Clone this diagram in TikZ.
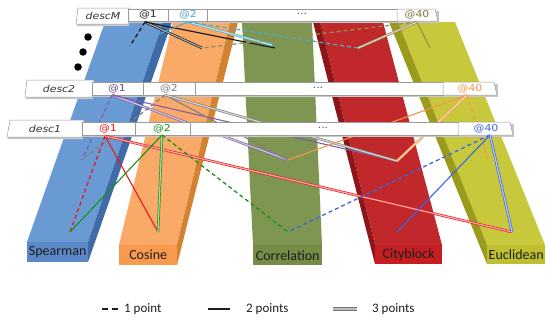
\documentclass[tikz,border=0pt]{standalone}
\usepackage{fontspec}
\setmainfont{Carlito}
\newfontfamily\rowfont[FakeStretch=1.15]{DejaVu Sans}
\definecolor{spB}{HTML}{6A9AD4}
\definecolor{spBd}{HTML}{3F6CA8}
\definecolor{spBf}{HTML}{5A88C6}
\definecolor{coO}{HTML}{F9AA68}
\definecolor{coOd}{HTML}{D38232}
\definecolor{coOf}{HTML}{F79A4E}
\definecolor{crG}{HTML}{7E9651}
\definecolor{crGf}{HTML}{748C45}
\definecolor{cbR}{HTML}{C0282C}
\definecolor{cbRd}{HTML}{8C1618}
\definecolor{cbRf}{HTML}{C41E22}
\definecolor{euY}{HTML}{C8C83C}
\definecolor{euYd}{HTML}{9A9A1C}
\definecolor{euYf}{HTML}{BFBF30}
\definecolor{rowgray}{HTML}{9A9A9A}
\definecolor{lBlack}{HTML}{151515}
\definecolor{lCyan}{HTML}{4BACC6}
\definecolor{lOlive}{HTML}{948A54}
\definecolor{lPurple}{HTML}{7E5FA8}
\definecolor{lGrey}{HTML}{808080}
\definecolor{lOrange}{HTML}{F79646}
\definecolor{lRed}{HTML}{E8191A}
\definecolor{lGreen}{HTML}{1A8F1A}
\definecolor{lBlue}{HTML}{3A66E8}
\definecolor{txt}{HTML}{1E1E1E}
\begin{document}
\begin{tikzpicture}[x=1pt,y=-1pt,
  p1/.style={draw=#1, line width=1.3pt, dash pattern=on 4pt off 3pt},
  p2/.style={draw=#1, line width=1.1pt},
  p3/.style={draw=#1, double=#1!35!white, line width=0.65pt, double distance=1.2pt},
  cell/.style={fill=white, draw=rowgray, line width=0.5pt},
  shade/.style={fill=black!22},
  collabel/.style={inner sep=0pt, anchor=north west, text=txt, font=\fontsize{14}{16}\selectfont},
  rowlabel/.style={inner sep=0pt, text=black!80, font=\rowfont\itshape\fontsize{9.5}{10}\selectfont},
  at/.style={inner sep=0pt, text=#1, font=\rowfont\fontsize{9.5}{10}\selectfont},
  legtxt/.style={inner sep=0pt, anchor=west, text=txt, font=\fontsize{13}{15}\selectfont},
  dot/.style={circle, fill=black, inner sep=0pt, minimum size=7.5pt}]
\useasboundingbox (0,0) rectangle (550,324);
\fill[white] (0,0) rectangle (550,324);

% ---------- columns ----------
\fill[spB] (27,242) -- (88,242) -- (163,22) -- (105,22) -- cycle;
\fill[spBd] (88,242) -- (88,262) -- (172,22) -- (163,22) -- cycle;
\node[collabel, fill=spBf, minimum width=61pt, minimum height=20pt] (sp) at (27,242) {Spearman};

\fill[coO] (119,245) -- (177,245) -- (230,22) -- (173,22) -- cycle;
\fill[coOd] (177,245) -- (177,265) -- (238,22) -- (230,22) -- cycle;
\node[collabel, fill=coOf, minimum width=58pt, minimum height=20pt] (co) at (119,245) {Cosine};

\fill[crG] (253,245) -- (322,245) -- (312,22) -- (242,22) -- cycle;
\node[collabel, fill=crGf, minimum width=69pt, minimum height=20pt] (cr) at (253,245) {Correlation};

\fill[cbR] (375,245) -- (442,245) -- (383,22) -- (320,22) -- cycle;
\fill[cbRd] (375,245) -- (375,264) -- (313,22) -- (320,22) -- cycle;
\node[collabel, fill=cbRf, minimum width=67pt, minimum height=19pt] (cb) at (375,245) {Cityblock};

\fill[euY] (487,245) -- (545,245) -- (455,22) -- (398,22) -- cycle;
\fill[euYd] (487,245) -- (487,264) -- (389,22) -- (398,22) -- cycle;
\node[collabel, fill=euYf, minimum width=58pt, minimum height=19pt] (eu) at (487,245) {Euclidean};

% ---------- coordinates ----------
\coordinate (mS1) at (145,22);  \coordinate (mS2) at (188,22);  \coordinate (mS40) at (417,22);
\coordinate (bS1) at (112,95);  \coordinate (bS2) at (165,95);  \coordinate (bS40) at (467,95);
\coordinate (aS1) at (105,136); \coordinate (aS2) at (162,135); \coordinate (aS40) at (490,135);
\coordinate (mSp) at (130,46); \coordinate (mCo) at (202,48); \coordinate (mCr) at (275,48);
\coordinate (mCr2) at (272,45); \coordinate (mCb) at (358,48); \coordinate (mEu) at (430,48);
\coordinate (bSp) at (82,160); \coordinate (bCr) at (288,160); \coordinate (bCb) at (397,161); \coordinate (bEu) at (488,160);
\coordinate (aSp) at (70,232); \coordinate (aCo) at (158,232); \coordinate (aCr) at (288,232); \coordinate (aCb) at (397,232); \coordinate (aEu) at (512,232);

% ---------- descM row ----------
\fill[shade] (79,10) -- (131,10) -- (129,26) -- (77,26) -- cycle;
\fill[shade] (129,11) rectangle (439,23);
\draw[cell] (78,8) -- (130,8) -- (128,24) -- (76,24) -- cycle;
\draw[cell] (128,9) rectangle (168,21);
\draw[cell] (168,9) rectangle (207,21);
\draw[cell] (207,9) rectangle (397,21);
\draw[cell] (397,9) -- (435,9) -- (438,21) -- (397,21) -- cycle;
\node[rowlabel] (tM) at (103,16) {descM};
\node[at=black!85] (tM1) at (148,15) {@1};
\node[at=lCyan] (tM2) at (188,15) {@2};
\node[at=black!70] (tMd) at (302,14) {...};
\node[at=lOlive!85!black] (tM40) at (417,15) {@40};

\draw[p1=lBlack] (mS1) -- (mSp);
\draw[p3=lBlack] (mS1) -- (mCo);
\draw[p2=lBlack] (mS1) -- (mCr);
\draw[p2=lCyan] (mS2) -- (mSp);
\draw[p3=lCyan] (mS2) -- (mCr2);
\draw[p1=lCyan] (mS2) -- (mCb);
\draw[p1=lOlive] (mS40) -- (mCo);
\draw[p3=lOlive] (mS40) -- (mCb);
\draw[p2=lOlive] (mS40) -- (mEu);

\node[dot] (d1) at (88,37) {};
\node[dot] (d2) at (83,52) {};
\node[dot] (d3) at (78,67) {};

% ---------- desc2 row ----------
\fill[shade] (28,82) -- (95,82) -- (93,99) -- (26,99) -- cycle;
\fill[shade] (93,84) rectangle (498,97);
\draw[cell] (27,80) -- (94,80) -- (92,97) -- (25,97) -- cycle;
\draw[cell] (92,82) rectangle (143,95);
\draw[cell] (143,82) rectangle (195,95);
\draw[cell] (195,82) rectangle (443,95);
\draw[cell] (443,82) -- (494,82) -- (497,95) -- (443,95) -- cycle;
\node[rowlabel] (t2) at (59,88.5) {desc2};
\node[at=lPurple!80!black] (t21) at (117,88.5) {@1};
\node[at=lGrey] (t22) at (169,88.5) {@2};
\node[at=black!70] (t2d) at (318,87.5) {...};
\node[at=lOrange] (t240) at (470,88.5) {@40};

\draw[p1=lPurple] (bS1) -- (bSp);
\draw[p3=lPurple] (bS1) -- (bCr);
\draw[p2=lPurple] (bS1) -- (bCb);
\draw[p1=lGrey] (bS2) -- (bSp);
\draw[p2=lGrey] (bS2) -- (bCr);
\draw[p3=lGrey] (bS2) -- (bCb);
\draw[p2=lOrange] (bS40) -- (bCr);
\draw[p3=lOrange] (bS40) -- (bCb);
\draw[p1=lOrange] (bS40) -- (bEu);

% ---------- desc1 row ----------
\fill[shade] (11,122) -- (85,122) -- (83,139) -- (8,139) -- cycle;
\fill[shade] (83,124) rectangle (514,137);
\draw[cell] (10,120) -- (84,120) -- (82,137) -- (7,137) -- cycle;
\draw[cell] (82,122) rectangle (135,135);
\draw[cell] (135,122) rectangle (190,135);
\draw[cell] (190,122) rectangle (458,135);
\draw[cell] (458,122) -- (510,122) -- (513,135) -- (458,135) -- cycle;
\node[rowlabel] (t1) at (45,128.5) {desc1};
\node[at=lRed] (t11) at (108,128.5) {@1};
\node[at=lGreen] (t12) at (162,128.5) {@2};
\node[at=black!70] (t1d) at (323,127.5) {...};
\node[at=lBlue] (t140) at (486,128.5) {@40};

\draw[p1=lRed] (aS1) -- (aSp);
\draw[p2=lRed] (aS1) -- (aCo);
\draw[p3=lRed] (aS1) -- (aEu);
\draw[p2=lGreen] (aS2) -- (aSp);
\draw[p3=lGreen] (aS2) -- (aCo);
\draw[p1=lGreen] (aS2) -- (aCr);
\draw[p1=lBlue] (aS40) -- (aCr);
\draw[p2=lBlue] (aS40) -- (aCb);
\draw[p3=lBlue] (aS40) -- (aEu);

% ---------- legend ----------
\coordinate (g1a) at (102,309); \coordinate (g1b) at (118,309);
\coordinate (g2a) at (208,309); \coordinate (g2b) at (230,309);
\coordinate (g3a) at (333,309); \coordinate (g3b) at (357,309);
\draw[draw=txt, line width=1.3pt, dash pattern=on 6pt off 4pt] (g1a) -- (g1b);
\node[legtxt] (lg1) at (124,309) {1 point};
\draw[draw=txt, line width=1.5pt] (g2a) -- (g2b);
\node[legtxt] (lg2) at (246,309) {2 points};
\draw[draw=black!55, double=black!25, line width=1pt, double distance=1.4pt] (g3a) -- (g3b);
\node[legtxt] (lg3) at (372,309) {3 points};
\end{tikzpicture}
\end{document}
